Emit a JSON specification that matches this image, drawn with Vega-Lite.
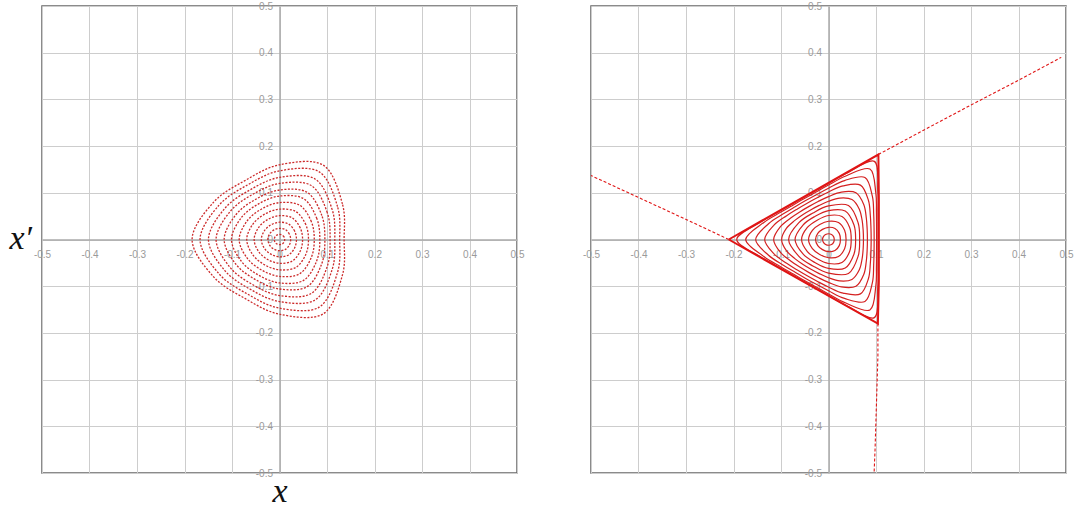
{
"$schema": "https://vega.github.io/schema/vega-lite/v6.json",
"background": "white",
"padding": {"left": 8, "top": 0, "right": 0, "bottom": 0},
"spacing": 56,
"config": {
  "view": {"stroke": "#666", "strokeWidth": 1.5},
  "axis": {"grid": true, "gridColor": "#cdcdcd", "gridWidth": 1, "domainColor": "#aaaaaa", "domainWidth": 1.5, "ticks": false, "labelColor": "#9a9a9a", "labelFont": "Liberation Sans", "labelFontSize": 10, "labelFlush": false, "labelOverlap": false, "labelBound": false}
},
"datasets": {
"left": [
{"k":1,"i":0,"x":0.0109,"y":0},{"k":1,"i":1,"x":0.0095,"y":0.0055},{"k":1,"i":2,"x":0.0056,"y":0.0096},{"k":1,"i":3,"x":0,"y":0.011},{"k":1,"i":4,"x":-0.0055,"y":0.0095},{"k":1,"i":5,"x":-0.0095,"y":0.0055},{"k":1,"i":6,"x":-0.0111,"y":0},{"k":1,"i":7,"x":-0.0095,"y":-0.0055},{"k":1,"i":8,"x":-0.0055,"y":-0.0095},{"k":1,"i":9,"x":0,"y":-0.011},{"k":1,"i":10,"x":0.0056,"y":-0.0096},{"k":1,"i":11,"x":0.0095,"y":-0.0055},
{"k":2,"i":0,"x":0.0235,"y":0},{"k":2,"i":1,"x":0.0206,"y":0.0119},{"k":2,"i":2,"x":0.0123,"y":0.0212},{"k":2,"i":3,"x":0,"y":0.024},{"k":2,"i":4,"x":-0.0118,"y":0.0205},{"k":2,"i":5,"x":-0.0208,"y":0.012},{"k":2,"i":6,"x":-0.0245,"y":0},{"k":2,"i":7,"x":-0.0208,"y":-0.012},{"k":2,"i":8,"x":-0.0118,"y":-0.0205},{"k":2,"i":9,"x":0,"y":-0.024},{"k":2,"i":10,"x":0.0123,"y":-0.0212},{"k":2,"i":11,"x":0.0206,"y":-0.0119},
{"k":3,"i":0,"x":0.0357,"y":0},{"k":3,"i":1,"x":0.0317,"y":0.0183},{"k":3,"i":2,"x":0.0191,"y":0.0331},{"k":3,"i":3,"x":0,"y":0.037},{"k":3,"i":4,"x":-0.0181,"y":0.0314},{"k":3,"i":5,"x":-0.032,"y":0.0185},{"k":3,"i":6,"x":-0.0383,"y":0},{"k":3,"i":7,"x":-0.032,"y":-0.0185},{"k":3,"i":8,"x":-0.0181,"y":-0.0314},{"k":3,"i":9,"x":0,"y":-0.037},{"k":3,"i":10,"x":0.0191,"y":-0.0331},{"k":3,"i":11,"x":0.0317,"y":-0.0183},
{"k":4,"i":0,"x":0.0486,"y":0},{"k":4,"i":1,"x":0.0435,"y":0.0251},{"k":4,"i":2,"x":0.0267,"y":0.0463},{"k":4,"i":3,"x":0,"y":0.051},{"k":4,"i":4,"x":-0.0248,"y":0.0429},{"k":4,"i":5,"x":-0.0442,"y":0.0255},{"k":4,"i":6,"x":-0.0534,"y":0},{"k":4,"i":7,"x":-0.0442,"y":-0.0255},{"k":4,"i":8,"x":-0.0248,"y":-0.0429},{"k":4,"i":9,"x":0,"y":-0.051},{"k":4,"i":10,"x":0.0267,"y":-0.0463},{"k":4,"i":11,"x":0.0435,"y":-0.0251},
{"k":5,"i":0,"x":0.061,"y":0},{"k":5,"i":1,"x":0.0553,"y":0.0319},{"k":5,"i":2,"x":0.0345,"y":0.0597},{"k":5,"i":3,"x":0,"y":0.065},{"k":5,"i":4,"x":-0.0313,"y":0.0542},{"k":5,"i":5,"x":-0.0563,"y":0.0325},{"k":5,"i":6,"x":-0.069,"y":0},{"k":5,"i":7,"x":-0.0563,"y":-0.0325},{"k":5,"i":8,"x":-0.0313,"y":-0.0542},{"k":5,"i":9,"x":0,"y":-0.065},{"k":5,"i":10,"x":0.0345,"y":-0.0597},{"k":5,"i":11,"x":0.0553,"y":-0.0319},
{"k":6,"i":0,"x":0.0732,"y":0},{"k":6,"i":1,"x":0.0669,"y":0.0386},{"k":6,"i":2,"x":0.0424,"y":0.0735},{"k":6,"i":3,"x":0,"y":0.079},{"k":6,"i":4,"x":-0.0377,"y":0.0654},{"k":6,"i":5,"x":-0.0684,"y":0.0395},{"k":6,"i":6,"x":-0.0849,"y":0},{"k":6,"i":7,"x":-0.0684,"y":-0.0395},{"k":6,"i":8,"x":-0.0377,"y":-0.0654},{"k":6,"i":9,"x":0,"y":-0.079},{"k":6,"i":10,"x":0.0424,"y":-0.0735},{"k":6,"i":11,"x":0.0669,"y":-0.0386},
{"k":7,"i":0,"x":0.0849,"y":0},{"k":7,"i":1,"x":0.0784,"y":0.0453},{"k":7,"i":2,"x":0.0506,"y":0.0876},{"k":7,"i":3,"x":0,"y":0.093},{"k":7,"i":4,"x":-0.0441,"y":0.0763},{"k":7,"i":5,"x":-0.0805,"y":0.0465},{"k":7,"i":6,"x":-0.1011,"y":0},{"k":7,"i":7,"x":-0.0805,"y":-0.0465},{"k":7,"i":8,"x":-0.0441,"y":-0.0763},{"k":7,"i":9,"x":0,"y":-0.093},{"k":7,"i":10,"x":0.0506,"y":-0.0876},{"k":7,"i":11,"x":0.0784,"y":-0.0453},
{"k":8,"i":0,"x":0.0955,"y":0},{"k":8,"i":1,"x":0.0891,"y":0.0514},{"k":8,"i":2,"x":0.0583,"y":0.1009},{"k":8,"i":3,"x":0,"y":0.106},{"k":8,"i":4,"x":-0.0498,"y":0.0863},{"k":8,"i":5,"x":-0.0918,"y":0.053},{"k":8,"i":6,"x":-0.1165,"y":0},{"k":8,"i":7,"x":-0.0918,"y":-0.053},{"k":8,"i":8,"x":-0.0498,"y":-0.0863},{"k":8,"i":9,"x":0,"y":-0.106},{"k":8,"i":10,"x":0.0583,"y":-0.1009},{"k":8,"i":11,"x":0.0891,"y":-0.0514},
{"k":9,"i":0,"x":0.1065,"y":0},{"k":9,"i":1,"x":0.1004,"y":0.058},{"k":9,"i":2,"x":0.0668,"y":0.1156},{"k":9,"i":3,"x":0,"y":0.12},{"k":9,"i":4,"x":-0.056,"y":0.0969},{"k":9,"i":5,"x":-0.1039,"y":0.06},{"k":9,"i":6,"x":-0.1335,"y":0},{"k":9,"i":7,"x":-0.1039,"y":-0.06},{"k":9,"i":8,"x":-0.056,"y":-0.0969},{"k":9,"i":9,"x":0,"y":-0.12},{"k":9,"i":10,"x":0.0668,"y":-0.1156},{"k":9,"i":11,"x":0.1004,"y":-0.058},
{"k":10,"i":0,"x":0.1164,"y":0},{"k":10,"i":1,"x":0.1109,"y":0.064},{"k":10,"i":2,"x":0.0748,"y":0.1296},{"k":10,"i":3,"x":0,"y":0.133},{"k":10,"i":4,"x":-0.0615,"y":0.1066},{"k":10,"i":5,"x":-0.1152,"y":0.0665},{"k":10,"i":6,"x":-0.1496,"y":0},{"k":10,"i":7,"x":-0.1152,"y":-0.0665},{"k":10,"i":8,"x":-0.0615,"y":-0.1066},{"k":10,"i":9,"x":0,"y":-0.133},{"k":10,"i":10,"x":0.0748,"y":-0.1296},{"k":10,"i":11,"x":0.1109,"y":-0.064},
{"k":11,"i":0,"x":0.1267,"y":0},{"k":11,"i":1,"x":0.1221,"y":0.0705},{"k":11,"i":2,"x":0.0836,"y":0.1449},{"k":11,"i":3,"x":0,"y":0.147},{"k":11,"i":4,"x":-0.0674,"y":0.1168},{"k":11,"i":5,"x":-0.1273,"y":0.0735},{"k":11,"i":6,"x":-0.1673,"y":0},{"k":11,"i":7,"x":-0.1273,"y":-0.0735},{"k":11,"i":8,"x":-0.0674,"y":-0.1168},{"k":11,"i":9,"x":0,"y":-0.147},{"k":11,"i":10,"x":0.0836,"y":-0.1449},{"k":11,"i":11,"x":0.1221,"y":-0.0705},
{"k":12,"i":0,"x":0.136,"y":0},{"k":12,"i":1,"x":0.1324,"y":0.0764},{"k":12,"i":2,"x":0.092,"y":0.1593},{"k":12,"i":3,"x":0,"y":0.16},{"k":12,"i":4,"x":-0.0728,"y":0.1261},{"k":12,"i":5,"x":-0.1386,"y":0.08},{"k":12,"i":6,"x":-0.184,"y":0},{"k":12,"i":7,"x":-0.1386,"y":-0.08},{"k":12,"i":8,"x":-0.0728,"y":-0.1261},{"k":12,"i":9,"x":0,"y":-0.16},{"k":12,"i":10,"x":0.092,"y":-0.1593},{"k":12,"i":11,"x":0.1324,"y":-0.0764}
],
"right": [
{"k":1,"i":0,"x":0.0121,"y":0},{"k":1,"i":1,"x":0.0107,"y":0.0062},{"k":1,"i":2,"x":0.0063,"y":0.0109},{"k":1,"i":3,"x":0,"y":0.0123},{"k":1,"i":4,"x":-0.0061,"y":0.0105},{"k":1,"i":5,"x":-0.0107,"y":0.0062},{"k":1,"i":6,"x":-0.0126,"y":0},{"k":1,"i":7,"x":-0.0107,"y":-0.0062},{"k":1,"i":8,"x":-0.0061,"y":-0.0105},{"k":1,"i":9,"x":0,"y":-0.0123},{"k":1,"i":10,"x":0.0063,"y":-0.0109},{"k":1,"i":11,"x":0.0107,"y":-0.0062},
{"k":2,"i":0,"x":0.0251,"y":0},{"k":2,"i":1,"x":0.0226,"y":0.0131},{"k":2,"i":2,"x":0.0137,"y":0.0236},{"k":2,"i":3,"x":0,"y":0.0261},{"k":2,"i":4,"x":-0.0126,"y":0.0217},{"k":2,"i":5,"x":-0.0226,"y":0.0131},{"k":2,"i":6,"x":-0.0273,"y":0},{"k":2,"i":7,"x":-0.0226,"y":-0.0131},{"k":2,"i":8,"x":-0.0126,"y":-0.0217},{"k":2,"i":9,"x":0,"y":-0.0261},{"k":2,"i":10,"x":0.0137,"y":-0.0236},{"k":2,"i":11,"x":0.0226,"y":-0.0131},
{"k":3,"i":0,"x":0.037,"y":0},{"k":3,"i":1,"x":0.0339,"y":0.0196},{"k":3,"i":2,"x":0.021,"y":0.0364},{"k":3,"i":3,"x":0,"y":0.0391},{"k":3,"i":4,"x":-0.0185,"y":0.032},{"k":3,"i":5,"x":-0.0339,"y":0.0196},{"k":3,"i":6,"x":-0.042,"y":0},{"k":3,"i":7,"x":-0.0339,"y":-0.0196},{"k":3,"i":8,"x":-0.0185,"y":-0.032},{"k":3,"i":9,"x":0,"y":-0.0391},{"k":3,"i":10,"x":0.021,"y":-0.0364},{"k":3,"i":11,"x":0.0339,"y":-0.0196},
{"k":4,"i":0,"x":0.0478,"y":0},{"k":4,"i":1,"x":0.0445,"y":0.0257},{"k":4,"i":2,"x":0.0284,"y":0.0491},{"k":4,"i":3,"x":0,"y":0.0514},{"k":4,"i":4,"x":-0.0239,"y":0.0414},{"k":4,"i":5,"x":-0.0445,"y":0.0257},{"k":4,"i":6,"x":-0.0567,"y":0},{"k":4,"i":7,"x":-0.0445,"y":-0.0257},{"k":4,"i":8,"x":-0.0239,"y":-0.0414},{"k":4,"i":9,"x":0,"y":-0.0514},{"k":4,"i":10,"x":0.0284,"y":-0.0491},{"k":4,"i":11,"x":0.0445,"y":-0.0257},
{"k":5,"i":0,"x":0.0571,"y":0},{"k":5,"i":1,"x":0.0537,"y":0.031},{"k":5,"i":2,"x":0.0352,"y":0.061},{"k":5,"i":3,"x":0,"y":0.062},{"k":5,"i":4,"x":-0.0286,"y":0.0494},{"k":5,"i":5,"x":-0.0537,"y":0.031},{"k":5,"i":6,"x":-0.0704,"y":0},{"k":5,"i":7,"x":-0.0537,"y":-0.031},{"k":5,"i":8,"x":-0.0286,"y":-0.0494},{"k":5,"i":9,"x":0,"y":-0.062},{"k":5,"i":10,"x":0.0352,"y":-0.061},{"k":5,"i":11,"x":0.0537,"y":-0.031},
{"k":6,"i":0,"x":0.0655,"y":0},{"k":6,"i":1,"x":0.0623,"y":0.036},{"k":6,"i":2,"x":0.042,"y":0.0727},{"k":6,"i":3,"x":0,"y":0.0719},{"k":6,"i":4,"x":-0.0328,"y":0.0567},{"k":6,"i":5,"x":-0.0623,"y":0.036},{"k":6,"i":6,"x":-0.084,"y":0},{"k":6,"i":7,"x":-0.0623,"y":-0.036},{"k":6,"i":8,"x":-0.0328,"y":-0.0567},{"k":6,"i":9,"x":0,"y":-0.0719},{"k":6,"i":10,"x":0.042,"y":-0.0727},{"k":6,"i":11,"x":0.0623,"y":-0.036},
{"k":7,"i":0,"x":0.0736,"y":0},{"k":7,"i":1,"x":0.073,"y":0.0196},{"k":7,"i":2,"x":0.0708,"y":0.0409},{"k":7,"i":3,"x":0.0649,"y":0.0649},{"k":7,"i":4,"x":0.0494,"y":0.0855},{"k":7,"i":5,"x":0.0238,"y":0.0887},{"k":7,"i":6,"x":0,"y":0.0818},{"k":7,"i":7,"x":-0.0196,"y":0.073},{"k":7,"i":8,"x":-0.0368,"y":0.0638},{"k":7,"i":9,"x":-0.0535,"y":0.0535},{"k":7,"i":10,"x":-0.0708,"y":0.0409},{"k":7,"i":11,"x":-0.0887,"y":0.0238},{"k":7,"i":12,"x":-0.0987,"y":0},{"k":7,"i":13,"x":-0.0887,"y":-0.0238},{"k":7,"i":14,"x":-0.0708,"y":-0.0409},{"k":7,"i":15,"x":-0.0535,"y":-0.0535},{"k":7,"i":16,"x":-0.0368,"y":-0.0638},{"k":7,"i":17,"x":-0.0196,"y":-0.073},{"k":7,"i":18,"x":0,"y":-0.0818},{"k":7,"i":19,"x":0.0238,"y":-0.0887},{"k":7,"i":20,"x":0.0494,"y":-0.0855},{"k":7,"i":21,"x":0.0649,"y":-0.0649},{"k":7,"i":22,"x":0.0708,"y":-0.0409},{"k":7,"i":23,"x":0.073,"y":-0.0196},
{"k":8,"i":0,"x":0.0819,"y":0},{"k":8,"i":1,"x":0.0814,"y":0.0218},{"k":8,"i":2,"x":0.0796,"y":0.046},{"k":8,"i":3,"x":0.0744,"y":0.0744},{"k":8,"i":4,"x":0.0578,"y":0.1},{"k":8,"i":5,"x":0.0272,"y":0.1016},{"k":8,"i":6,"x":0,"y":0.0919},{"k":8,"i":7,"x":-0.0218,"y":0.0814},{"k":8,"i":8,"x":-0.0409,"y":0.0709},{"k":8,"i":9,"x":-0.0596,"y":0.0596},{"k":8,"i":10,"x":-0.0796,"y":0.046},{"k":8,"i":11,"x":-0.1016,"y":0.0272},{"k":8,"i":12,"x":-0.1155,"y":0},{"k":8,"i":13,"x":-0.1016,"y":-0.0272},{"k":8,"i":14,"x":-0.0796,"y":-0.046},{"k":8,"i":15,"x":-0.0596,"y":-0.0596},{"k":8,"i":16,"x":-0.0409,"y":-0.0709},{"k":8,"i":17,"x":-0.0218,"y":-0.0814},{"k":8,"i":18,"x":0,"y":-0.0919},{"k":8,"i":19,"x":0.0272,"y":-0.1016},{"k":8,"i":20,"x":0.0578,"y":-0.1},{"k":8,"i":21,"x":0.0744,"y":-0.0744},{"k":8,"i":22,"x":0.0796,"y":-0.046},{"k":8,"i":23,"x":0.0814,"y":-0.0218},
{"k":9,"i":0,"x":0.0898,"y":0},{"k":9,"i":1,"x":0.0894,"y":0.024},{"k":9,"i":2,"x":0.0881,"y":0.0509},{"k":9,"i":3,"x":0.084,"y":0.084},{"k":9,"i":4,"x":0.0672,"y":0.1164},{"k":9,"i":5,"x":0.0308,"y":0.1148},{"k":9,"i":6,"x":0,"y":0.1018},{"k":9,"i":7,"x":-0.024,"y":0.0894},{"k":9,"i":8,"x":-0.0449,"y":0.0778},{"k":9,"i":9,"x":-0.0655,"y":0.0655},{"k":9,"i":10,"x":-0.0881,"y":0.0509},{"k":9,"i":11,"x":-0.1148,"y":0.0308},{"k":9,"i":12,"x":-0.1344,"y":0},{"k":9,"i":13,"x":-0.1148,"y":-0.0308},{"k":9,"i":14,"x":-0.0881,"y":-0.0509},{"k":9,"i":15,"x":-0.0655,"y":-0.0655},{"k":9,"i":16,"x":-0.0449,"y":-0.0778},{"k":9,"i":17,"x":-0.024,"y":-0.0894},{"k":9,"i":18,"x":0,"y":-0.1018},{"k":9,"i":19,"x":0.0308,"y":-0.1148},{"k":9,"i":20,"x":0.0672,"y":-0.1164},{"k":9,"i":21,"x":0.084,"y":-0.084},{"k":9,"i":22,"x":0.0881,"y":-0.0509},{"k":9,"i":23,"x":0.0894,"y":-0.024},
{"k":10,"i":0,"x":0.0961,"y":0},{"k":10,"i":1,"x":0.0959,"y":0.0257},{"k":10,"i":2,"x":0.0951,"y":0.0549},{"k":10,"i":3,"x":0.0924,"y":0.0924},{"k":10,"i":4,"x":0.0767,"y":0.1328},{"k":10,"i":5,"x":0.0338,"y":0.1262},{"k":10,"i":6,"x":0,"y":0.1098},{"k":10,"i":7,"x":-0.0257,"y":0.0959},{"k":10,"i":8,"x":-0.0481,"y":0.0833},{"k":10,"i":9,"x":-0.0702,"y":0.0702},{"k":10,"i":10,"x":-0.0951,"y":0.0549},{"k":10,"i":11,"x":-0.1262,"y":0.0338},{"k":10,"i":12,"x":-0.1533,"y":0},{"k":10,"i":13,"x":-0.1262,"y":-0.0338},{"k":10,"i":14,"x":-0.0951,"y":-0.0549},{"k":10,"i":15,"x":-0.0702,"y":-0.0702},{"k":10,"i":16,"x":-0.0481,"y":-0.0833},{"k":10,"i":17,"x":-0.0257,"y":-0.0959},{"k":10,"i":18,"x":0,"y":-0.1098},{"k":10,"i":19,"x":0.0338,"y":-0.1262},{"k":10,"i":20,"x":0.0767,"y":-0.1328},{"k":10,"i":21,"x":0.0924,"y":-0.0924},{"k":10,"i":22,"x":0.0951,"y":-0.0549},{"k":10,"i":23,"x":0.0959,"y":-0.0257},
{"k":11,"i":0,"x":0.1013,"y":0},{"k":11,"i":1,"x":0.1012,"y":0.0271},{"k":11,"i":2,"x":0.1009,"y":0.0582},{"k":11,"i":3,"x":0.0996,"y":0.0996},{"k":11,"i":4,"x":0.0872,"y":0.1509},{"k":11,"i":5,"x":0.0365,"y":0.1361},{"k":11,"i":6,"x":0,"y":0.1165},{"k":11,"i":7,"x":-0.0271,"y":0.1012},{"k":11,"i":8,"x":-0.0507,"y":0.0878},{"k":11,"i":9,"x":-0.0741,"y":0.0741},{"k":11,"i":10,"x":-0.1009,"y":0.0582},{"k":11,"i":11,"x":-0.1361,"y":0.0365},{"k":11,"i":12,"x":-0.1743,"y":0},{"k":11,"i":13,"x":-0.1361,"y":-0.0365},{"k":11,"i":14,"x":-0.1009,"y":-0.0582},{"k":11,"i":15,"x":-0.0741,"y":-0.0741},{"k":11,"i":16,"x":-0.0507,"y":-0.0878},{"k":11,"i":17,"x":-0.0271,"y":-0.1012},{"k":11,"i":18,"x":0,"y":-0.1165},{"k":11,"i":19,"x":0.0365,"y":-0.1361},{"k":11,"i":20,"x":0.0872,"y":-0.1509},{"k":11,"i":21,"x":0.0996,"y":-0.0996},{"k":11,"i":22,"x":0.1009,"y":-0.0582},{"k":11,"i":23,"x":0.1012,"y":-0.0271},
{"k":12,"i":0,"x":0.1041,"y":0},{"k":12,"i":1,"x":0.1041,"y":0.0279},{"k":12,"i":2,"x":0.104,"y":0.0601},{"k":12,"i":3,"x":0.1037,"y":0.1037},{"k":12,"i":4,"x":0.0966,"y":0.1673},{"k":12,"i":5,"x":0.038,"y":0.1417},{"k":12,"i":6,"x":0,"y":0.1201},{"k":12,"i":7,"x":-0.0279,"y":0.1041},{"k":12,"i":8,"x":-0.0521,"y":0.0902},{"k":12,"i":9,"x":-0.0762,"y":0.0762},{"k":12,"i":10,"x":-0.104,"y":0.0601},{"k":12,"i":11,"x":-0.1417,"y":0.038},{"k":12,"i":12,"x":-0.1932,"y":0},{"k":12,"i":13,"x":-0.1417,"y":-0.038},{"k":12,"i":14,"x":-0.104,"y":-0.0601},{"k":12,"i":15,"x":-0.0762,"y":-0.0762},{"k":12,"i":16,"x":-0.0521,"y":-0.0902},{"k":12,"i":17,"x":-0.0279,"y":-0.1041},{"k":12,"i":18,"x":0,"y":-0.1201},{"k":12,"i":19,"x":0.038,"y":-0.1417},{"k":12,"i":20,"x":0.0966,"y":-0.1673},{"k":12,"i":21,"x":0.1037,"y":-0.1037},{"k":12,"i":22,"x":0.104,"y":-0.0601},{"k":12,"i":23,"x":0.1041,"y":-0.0279}
],
"tri": [
{"k":"t","i":0,"x":-0.21,"y":0},{"k":"t","i":1,"x":0.105,"y":0.182},{"k":"t","i":2,"x":0.106,"y":0.09},{"k":"t","i":3,"x":0.106,"y":0},{"k":"t","i":4,"x":0.106,"y":-0.09},{"k":"t","i":5,"x":0.104,"y":-0.18},{"k":"t","i":6,"x":-0.21,"y":0}
],
"arms": [
{"k":"a1","i":0,"x":-0.21,"y":0},{"k":"a1","i":1,"x":-0.3,"y":0.043},{"k":"a1","i":2,"x":-0.4,"y":0.09},{"k":"a1","i":3,"x":-0.5,"y":0.137},
{"k":"a2","i":0,"x":0.105,"y":0.182},{"k":"a2","i":1,"x":0.2,"y":0.234},{"k":"a2","i":2,"x":0.3,"y":0.288},{"k":"a2","i":3,"x":0.4,"y":0.341},{"k":"a2","i":4,"x":0.49,"y":0.39},
{"k":"a3","i":0,"x":0.104,"y":-0.18},{"k":"a3","i":1,"x":0.104,"y":-0.25},{"k":"a3","i":2,"x":0.101,"y":-0.35},{"k":"a3","i":3,"x":0.098,"y":-0.45},{"k":"a3","i":4,"x":0.096,"y":-0.5}
]
},
"hconcat": [
{
  "width": 475, "height": 467,
  "encoding": {
    "x": {"field": "x", "type": "quantitative", "scale": {"domain": [-0.5, 0.5], "nice": false, "zero": false},
      "axis": {"values": [-0.5,-0.4,-0.3,-0.2,-0.1,0,0.1,0.2,0.3,0.4,0.5], "offset": -233.5, "labelPadding": 10, "labelExpr": "toString(round(datum.value*10)/10)",
        "title": "x", "titleFont": "Liberation Serif, DejaVu Serif, serif", "titleFontStyle": "italic", "titleFontWeight": "normal", "titleFontSize": 34, "titleColor": "#111", "titleY": 261.5, "titleBaseline": "alphabetic"}},
    "y": {"field": "y", "type": "quantitative", "scale": {"domain": [-0.5, 0.5], "nice": false, "zero": false},
      "axis": {"values": [-0.5,-0.4,-0.3,-0.2,-0.1,0,0.1,0.2,0.3,0.4,0.5], "offset": -237.5, "labelPadding": 7, "labelExpr": "toString(round(datum.value*10)/10)",
        "title": "x′", "titleFont": "Liberation Serif, DejaVu Serif, serif", "titleFontStyle": "italic", "titleFontWeight": "normal", "titleFontSize": 34, "titleColor": "#111", "titleAngle": 0, "titleAlign": "left", "titleX": -270.5, "titleY": 242, "titleBaseline": "alphabetic"}},
    "detail": {"field": "k"},
    "order": {"field": "i", "type": "quantitative"}
  },
  "layer": [
    {"data": {"name": "left"}, "mark": {"type": "line", "interpolate": "cardinal-closed", "color": "#cc2a2a", "strokeWidth": 1.3, "strokeDash": [2, 1.5]}}
  ]
},
{
  "width": 475, "height": 467,
  "encoding": {
    "x": {"field": "x", "type": "quantitative", "scale": {"domain": [-0.5, 0.5], "nice": false, "zero": false},
      "axis": {"values": [-0.5,-0.4,-0.3,-0.2,-0.1,0,0.1,0.2,0.3,0.4,0.5], "offset": -233.5, "labelPadding": 10, "labelExpr": "toString(round(datum.value*10)/10)", "title": null}},
    "y": {"field": "y", "type": "quantitative", "scale": {"domain": [-0.5, 0.5], "nice": false, "zero": false},
      "axis": {"values": [-0.5,-0.4,-0.3,-0.2,-0.1,0,0.1,0.2,0.3,0.4,0.5], "offset": -237.5, "labelPadding": 7, "labelExpr": "toString(round(datum.value*10)/10)", "title": null}},
    "detail": {"field": "k"},
    "order": {"field": "i", "type": "quantitative"}
  },
  "layer": [
    {"data": {"name": "right"}, "mark": {"type": "line", "interpolate": "cardinal-closed", "color": "#d42020", "strokeWidth": 1.2}},
    {"data": {"name": "tri"}, "mark": {"type": "line", "color": "#e01515", "strokeWidth": 2}},
    {"data": {"name": "arms"}, "mark": {"type": "line", "color": "#e01515", "strokeWidth": 1.1, "strokeDash": [3, 2]}}
  ]
}
]
}
